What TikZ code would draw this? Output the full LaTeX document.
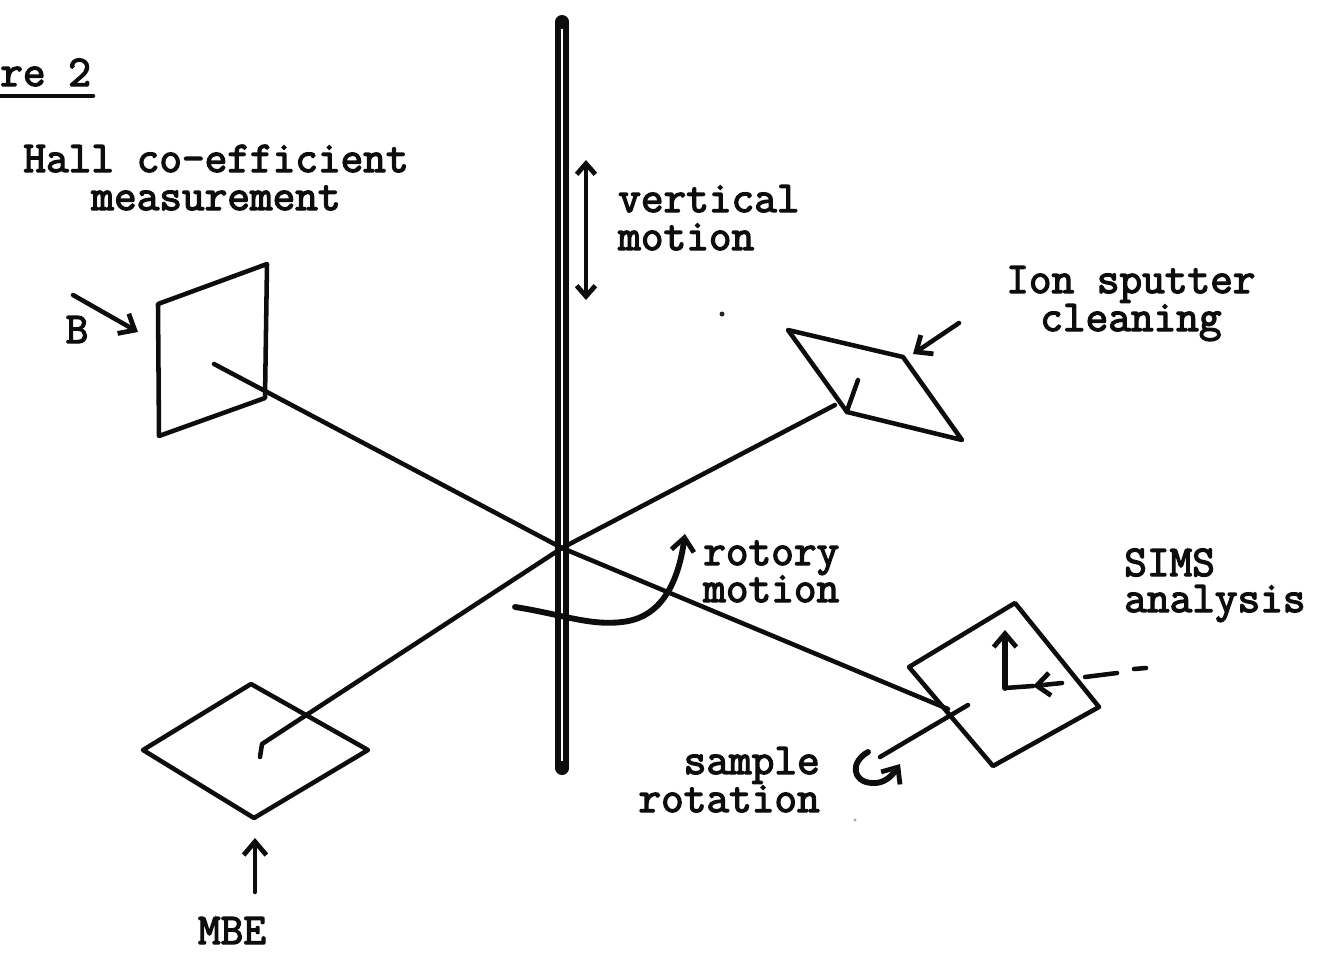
\documentclass[tikz,border=0pt]{standalone}
\usepackage{fontspec}
\usetikzlibrary{arrows.meta}
\newfontfamily\typed[FakeBold=3]{Latin Modern Mono}
\begin{document}
\begin{tikzpicture}[x=0.75pt,y=-0.75pt,
  ink/.style={draw=black!95,line width=3.7pt,line cap=round,line join=round},
  thin ink/.style={ink,line width=3.4pt},
  head/.style={-{Straight Barb[length=10pt,width=17pt,line width=3.6pt]}},
  dhead/.style={{Straight Barb[length=8pt,width=14pt,line width=3.6pt]}-{Straight Barb[length=8pt,width=14pt,line width=3.6pt]}},
  lab/.style={font=\typed\fontsize{33}{33}\selectfont,text=black!95,inner sep=0pt}]
\useasboundingbox (0,0) rectangle (1336,953);
% key points
\coordinate (c) at (562,548);
\coordinate (rt) at (562,22); \coordinate (rb) at (562,768);
\coordinate (h1) at (158,304); \coordinate (h2) at (267,264); \coordinate (h3) at (265,398); \coordinate (h4) at (159,436);
\coordinate (hc) at (214,364);
\coordinate (i1) at (788,330); \coordinate (i2) at (903,357); \coordinate (i3) at (962,440); \coordinate (i4) at (847,412);
\coordinate (ie) at (835,405); \coordinate (ic) at (858,380);
\coordinate (m1) at (143,750); \coordinate (m2) at (251,684); \coordinate (m3) at (368,750); \coordinate (m4) at (254,818);
\coordinate (mc) at (260,757); \coordinate (mb) at (262,744);
\coordinate (s1) at (909,667); \coordinate (s2) at (1015,603); \coordinate (s3) at (1099,707); \coordinate (s4) at (993,766);
\coordinate (se) at (948,709);
% rod
\draw[ink,line width=4.4pt] ([xshift=-3]rt) -- ([xshift=-3]rb);
\draw[ink,line width=4.4pt] ([xshift=3]rt) -- ([xshift=3]rb);
\fill[black!95] (rt) circle (7);
\fill[black!95] (rb) circle (7);
% axes
\draw[thin ink] (hc) -- (c) -- (se);
\draw[thin ink] (mc) -- (mb) -- (c) -- (ie);
\draw[thin ink] (i4) -- (848,408) -- (ic);
% samples
\draw[thin ink] (h1) -- (h2) -- (h3) -- (h4) -- cycle;
\draw[thin ink] (i1) -- (i2) -- (i3) -- (i4) -- cycle;
\draw[thin ink] (m1) -- (m2) -- (m3) -- (m4) -- cycle;
\draw[thin ink] (s1) -- (s2) -- (s3) -- (s4) -- cycle;
% arrows
\coordinate (va) at (586,160); \coordinate (vb) at (586,300);
\draw[thin ink,dhead] (va) -- (vb);
\coordinate (ba) at (73,295); \coordinate (bb) at (138,332);
\draw[thin ink,head] (ba) -- (bb);
\coordinate (ia) at (959,323); \coordinate (ib) at (913,354);
\draw[thin ink,head] (ia) -- (ib);
\coordinate (ma) at (255,892); \coordinate (mt) at (255,838);
\draw[thin ink,head] (ma) -- (mt);
% rotory motion
\coordinate (ra) at (515,607); \coordinate (rc) at (685,534);
\draw[ink,line width=4.4pt,head] (ra) .. controls (560,614) and (590,626) .. (622,622) .. controls (660,618) and (678,585) .. (rc);
% sample rotation
\coordinate (sa) at (968,705); \coordinate (sb) at (880,757);
\draw[thin ink] (sa) -- (sb);
\coordinate (ca) at (868,752); \coordinate (cb) at (900,764);
\draw[ink,line width=4.4pt,head] (ca) .. controls (850,762) and (852,782) .. (872,783) .. controls (884,784) and (892,776) .. (cb);
% SIMS axes
\coordinate (xo) at (1005,688); \coordinate (xu) at (1005,630); \coordinate (xr) at (1033,686); \coordinate (xa) at (1062,683);
\draw[ink,line width=4.4pt,head] (xo) -- (xu);
\draw[thin ink] (xo) -- (xr);
\draw[thin ink,head] (xa) -- (xr);
\coordinate (d1) at (1085,677); \coordinate (d2) at (1117,673); \coordinate (d3) at (1134,669); \coordinate (d4) at (1146,668);
\draw[thin ink] (d1) -- (d2);
\draw[thin ink] (d3) -- (d4);
% specks
\fill[black!85] (722,314) circle (2.5);
\fill[black!35] (855,820) circle (1.6);
% labels
\node[lab,anchor=base west] (fig) at (0,86) {re 2};
\draw[thin ink] (0,96) -- (93,96);
\node[lab,anchor=base] (hall) at (216,172) {Hall co-efficient};
\node[lab,anchor=base] (meas) at (216,210) {measurement};
\node[lab,anchor=base] (bl) at (77,343) {B};
\node[lab,anchor=base west] (vert) at (618,212) {vertical};
\node[lab,anchor=base west] (vmot) at (618,250) {motion};
\node[lab,anchor=base west] (ion) at (1006,293) {Ion sputter};
\node[lab,anchor=base west] (clean) at (1040,331) {cleaning};
\node[lab,anchor=base west] (rot) at (703,565) {rotory};
\node[lab,anchor=base west] (rmot) at (703,602) {motion};
\node[lab,anchor=base west] (sims) at (1124,576) {SIMS};
\node[lab,anchor=base west] (anal) at (1124,612) {analysis};
\node[lab,anchor=base east] (samp) at (820,774) {sample};
\node[lab,anchor=base east] (srot) at (820,812) {rotation};
\node[lab,anchor=base] (mbe) at (232,944) {MBE};
\end{tikzpicture}
\end{document}
